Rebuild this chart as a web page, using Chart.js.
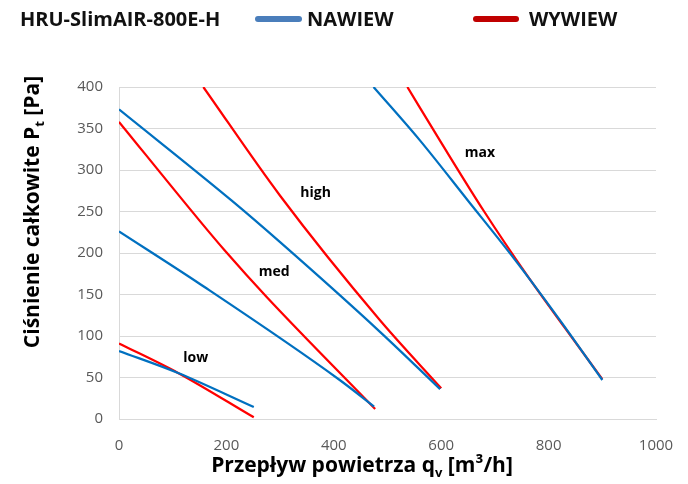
<!DOCTYPE html>
<html>
<head>
<meta charset="utf-8">
<script src="https://cdn.jsdelivr.net/npm/chart.js@4.4.1/dist/chart.umd.min.js"></script>
<style>
  body { margin: 0; background: #fff; }
  #wrap { position: relative; width: 688px; height: 484px; font-family: "Open Sans", sans-serif; }
  #chart { position: absolute; left: 0; top: 0; }
  .lg { position: absolute; top: 5px; font-weight: bold; font-size: 20px; color: #111; line-height: 28px; white-space: nowrap; }
  .sw { position: absolute; top: 16px; height: 6px; border-radius: 3px; }
</style>
</head>
<body>
<div id="wrap">
  <canvas id="chart" width="688" height="484"></canvas>
  <div class="lg" style="left:20px">HRU-SlimAIR-800E-H</div>
  <div class="sw" style="left:255px;width:47px;background:#4a7ebb"></div>
  <div class="lg" style="left:307px">NAWIEW</div>
  <div class="sw" style="left:473px;width:46px;background:#c00000"></div>
  <div class="lg" style="left:529px">WYWIEW</div>
</div>
<script>
// curves: q [m3/h] -> Pt [Pa]
const lowNawiewX = [0, 110, 251];
const lowNawiewY = [82, 55.5, 14.5];
const lowWywiewX = [0, 110, 251];
const lowWywiewY = [91, 55.5, 2];

const medNawiewX = [0, 150, 411, 475];
const medNawiewY = [226, 163, 47, 15];
const medWywiewX = [0, 150, 197, 275, 477];
const medWywiewY = [358, 239, 203, 147, 12];

const highNawiewX = [0, 210, 300, 486, 598];
const highNawiewY = [373, 263, 213, 105, 36];
const highWywiewX = [157, 300, 486, 600];
const highWywiewY = [400, 269, 119, 37];

const maxNawiewX = [474, 560, 650, 730, 820, 900];
const maxNawiewY = [400, 336, 263, 198, 120, 47];
const maxWywiewX = [537, 600, 680, 760, 830, 900];
const maxWywiewY = [400, 333, 250, 173, 110, 48];

const curveLabels = ['low', 'med', 'high', 'max'];
const curveLabelX = [143, 289, 366, 672];
const curveLabelY = [73, 177, 272, 320];

const xTicks = [0, 200, 400, 600, 800, 1000];
const yTicks = [0, 50, 100, 150, 200, 250, 300, 350, 400];

const blue = '#0070C0';
const red = '#FF0000';

function pts(xs, ys) {
  return xs.map((x, i) => ({ x: x, y: ys[i] }));
}

function curve(name, xs, ys, color) {
  return {
    label: name,
    data: pts(xs, ys),
    borderColor: color,
    backgroundColor: color,
    borderWidth: 2.25,
    showLine: true,
    pointRadius: 0,
    cubicInterpolationMode: 'monotone'
  };
}

// text with one subscript part, drawn from its centre
function drawSub(ctx, a, sub, b, cx, base) {
  const big = 'bold 21px "Open Sans"';
  const small = 'bold 13px "Open Sans"';
  ctx.font = big;
  const wa = ctx.measureText(a).width;
  const wb = ctx.measureText(b).width;
  ctx.font = small;
  const ws = ctx.measureText(sub).width;
  let x = cx - (wa + ws + wb) / 2;
  ctx.textAlign = 'left';
  ctx.textBaseline = 'alphabetic';
  ctx.font = big;
  ctx.fillText(a, x, base);
  x += wa;
  ctx.font = small;
  ctx.fillText(sub, x, base + 5);
  x += ws;
  ctx.font = big;
  ctx.fillText(b, x, base);
}

const textPlugin = {
  id: 'texts',
  afterDraw(chart) {
    const ctx = chart.ctx;
    const xs = chart.scales.x, ys = chart.scales.y;
    ctx.save();
    ctx.fillStyle = '#000';
    ctx.font = 'bold 14px "Open Sans"';
    ctx.textAlign = 'center';
    ctx.textBaseline = 'middle';
    curveLabels.forEach((t, i) => {
      ctx.fillText(t, xs.getPixelForValue(curveLabelX[i]), ys.getPixelForValue(curveLabelY[i]));
    });
    drawSub(ctx, 'Przepływ powietrza q', 'v', ' [m³/h]', 362, 472);
    ctx.translate(39, 212);
    ctx.rotate(-Math.PI / 2);
    drawSub(ctx, 'Ciśnienie całkowite P', 't', ' [Pa]', 0, 0);
    ctx.restore();
  }
};

const tickFont = { family: '"Open Sans"', size: 15 };

new Chart(document.getElementById('chart'), {
  type: 'scatter',
  data: {
    datasets: [
      curve('NAWIEW low', lowNawiewX, lowNawiewY, blue),
      curve('WYWIEW low', lowWywiewX, lowWywiewY, red),
      curve('NAWIEW med', medNawiewX, medNawiewY, blue),
      curve('WYWIEW med', medWywiewX, medWywiewY, red),
      curve('NAWIEW high', highNawiewX, highNawiewY, blue),
      curve('WYWIEW high', highWywiewX, highWywiewY, red),
      curve('NAWIEW max', maxNawiewX, maxNawiewY, blue),
      curve('WYWIEW max', maxWywiewX, maxWywiewY, red)
    ]
  },
  options: {
    responsive: false,
    animation: false,
    devicePixelRatio: 1,
    layout: { padding: { left: 0, top: 87, right: 32, bottom: 0 } },
    plugins: { legend: { display: false }, tooltip: { enabled: false } },
    scales: {
      x: {
        type: 'linear',
        min: 0,
        max: 1000,
        afterBuildTicks: (s) => { s.ticks = xTicks.map(v => ({ value: v })); },
        afterFit: (s) => { s.height = 65; },
        grid: { display: false },
        border: { display: true, color: '#d9d9d9', width: 1 },
        ticks: { color: '#595959', font: tickFont, padding: 10, maxRotation: 0, callback: (v) => String(v) }
      },
      y: {
        type: 'linear',
        min: 0,
        max: 400,
        afterBuildTicks: (s) => { s.ticks = yTicks.map(v => ({ value: v })); },
        afterFit: (s) => { s.width = 119; },
        grid: { color: '#d9d9d9', lineWidth: 1, drawTicks: false },
        border: { display: true, color: '#d9d9d9', width: 1 },
        ticks: { color: '#595959', font: tickFont, padding: 16, callback: (v) => String(v) }
      }
    }
  },
  plugins: [textPlugin]
});
</script>
</body>
</html>
